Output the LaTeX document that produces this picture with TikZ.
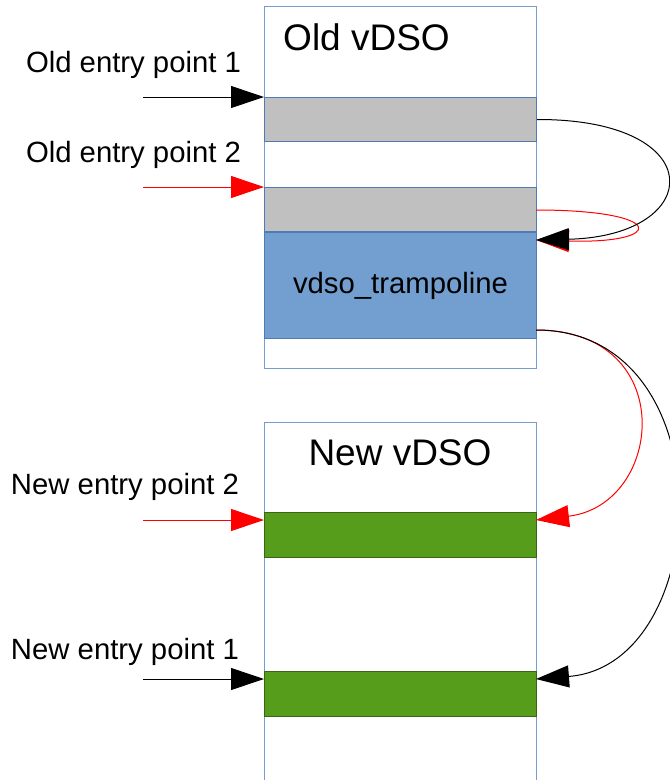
\documentclass[tikz,border=0pt]{standalone}
\usepackage{fontspec}
\setmainfont{Liberation Sans}
\usetikzlibrary{arrows.meta}
\definecolor{boxline}{RGB}{114,159,207}
\definecolor{darkline}{RGB}{80,122,180}
\definecolor{grayfill}{RGB}{192,192,192}
\definecolor{bluefill}{RGB}{114,159,207}
\definecolor{greenfill}{RGB}{87,157,28}
\definecolor{greenline}{RGB}{60,100,20}
\definecolor{redline}{RGB}{255,0,0}
\tikzset{
  frame/.style={draw=boxline, line width=1pt, fill=white},
  slot/.style={draw=darkline, line width=1pt, inner sep=0pt, minimum width=272pt, anchor=north west},
  grayslot/.style={slot, fill=grayfill, minimum height=44pt},
  greenslot/.style={slot, fill=greenfill, draw=greenline, minimum height=45pt},
  title/.style={font=\fontsize{37}{44}\selectfont, inner sep=0pt},
  label/.style={font=\fontsize{29.3}{35}\selectfont, inner sep=0pt},
  tip/.style={-{Triangle[length=33pt,width=22pt]}},
  blackarr/.style={tip, line width=1pt, draw=black},
  redarr/.style={tip, line width=1pt, draw=redline},
}
\begin{document}
\begin{tikzpicture}[x=1pt,y=-1pt]
\useasboundingbox (0,0) rectangle (670,780);
% old vDSO frame
\draw[frame] (264,6) rectangle (536,368);
\node[grayslot] (g1) at (264,97) {};
\node[grayslot] (g2) at (264,187) {};
\node[slot, fill=bluefill, minimum height=106pt, label] (tramp) at (264,232) {vdso\_trampoline};
\node[title] (oldt) at (366.5,37) {Old vDSO};
% new vDSO frame (open at bottom)
\fill[white] (264,422) rectangle (536,790);
\draw[boxline, line width=1pt] (264,790) -- (264,422) -- (536,422) -- (536,790);
\node[greenslot] (n2) at (264,512) {};
\node[greenslot] (n1) at (264,671) {};
\node[title] (newt) at (400,453) {New vDSO};
% labels
\node[label] (lo1) at (133.5,65) {Old entry point 1};
\node[label] (lo2) at (133.5,155) {Old entry point 2};
\node[label] (ln2) at (125,487) {New entry point 2};
\node[label] (ln1) at (125,652) {New entry point 1};
% free ends of entry arrows
\coordinate (s1) at (143,97);
\coordinate (s2) at (143,187);
\coordinate (s3) at (143,520);
\coordinate (s4) at (143,679);
\coordinate (e3) at (264,520);
\coordinate (e4) at (264,679);
\draw[blackarr] (s1) -- (g1.north west);
\draw[redarr] (s2) -- (g2.north west);
\draw[redarr] (s3) -- (e3);
\draw[blackarr] (s4) -- (e4);
% jump curves
\coordinate (tin) at (536,240);
\coordinate (tout) at (536,330);
\coordinate (n2in) at (536,520);
\coordinate (n1in) at (536,679);
\draw[redarr] (536,210) .. controls (668,210) and (666,244) .. (tin);
\draw[blackarr] (g1.east) .. controls (712,119) and (705,236) .. (tin);
\draw[redarr] (tout) .. controls (680,330) and (664,505) .. (n2in);
\draw[blackarr] (tout) .. controls (728,330) and (715,665) .. (n1in);
\end{tikzpicture}
\end{document}
